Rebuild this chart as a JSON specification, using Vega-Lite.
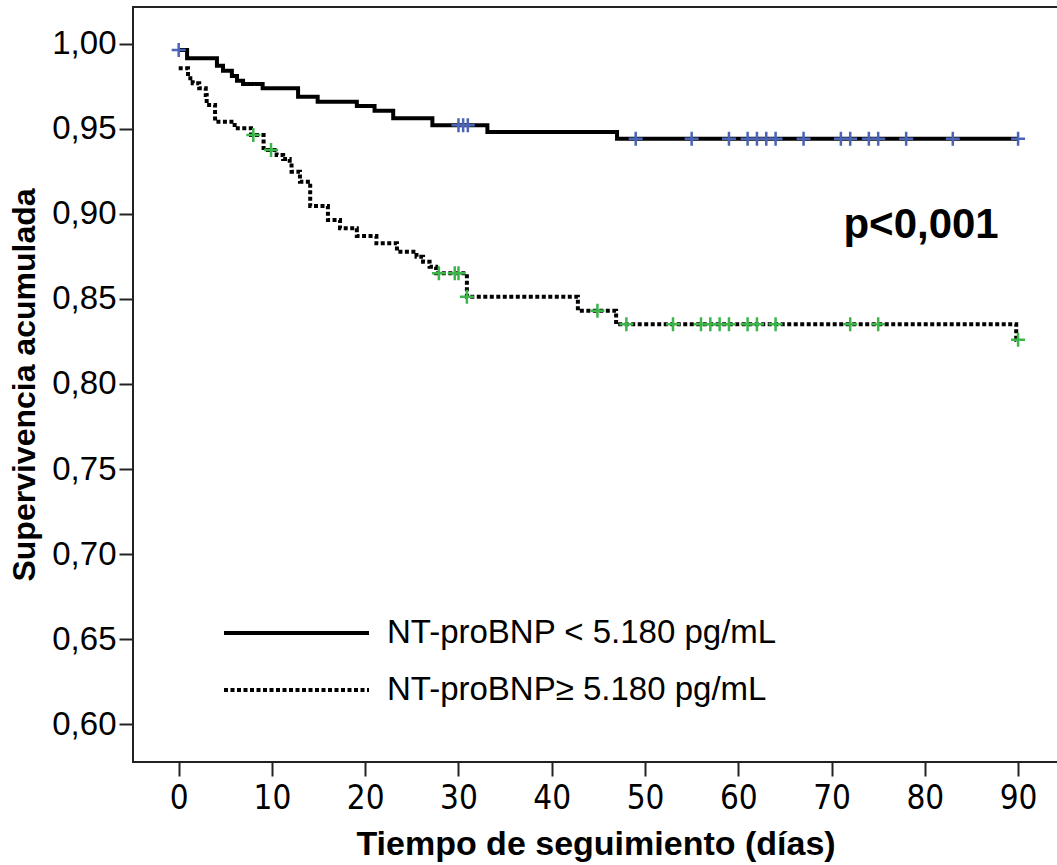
{
  "$schema": "https://vega.github.io/schema/vega-lite/v6.json",
  "width": 925,
  "height": 755,
  "autosize": {"type": "none"},
  "padding": {"left": 133, "top": 7, "right": 0, "bottom": 103},
  "background": "white",
  "config": {"view": {"stroke": "#222", "strokeWidth": 2}, "font": "Liberation Sans"},
  "datasets": {
    "curvas": [
      {"grupo": "NT-proBNP < 5.180 pg/mL", "t": 0, "s": 0.9962},
      {"grupo": "NT-proBNP < 5.180 pg/mL", "t": 0.9, "s": 0.9913},
      {"grupo": "NT-proBNP < 5.180 pg/mL", "t": 4.1, "s": 0.987},
      {"grupo": "NT-proBNP < 5.180 pg/mL", "t": 4.75, "s": 0.984},
      {"grupo": "NT-proBNP < 5.180 pg/mL", "t": 5.7, "s": 0.9809},
      {"grupo": "NT-proBNP < 5.180 pg/mL", "t": 6.25, "s": 0.9781},
      {"grupo": "NT-proBNP < 5.180 pg/mL", "t": 6.9, "s": 0.9762},
      {"grupo": "NT-proBNP < 5.180 pg/mL", "t": 9.0, "s": 0.9737},
      {"grupo": "NT-proBNP < 5.180 pg/mL", "t": 12.8, "s": 0.9687},
      {"grupo": "NT-proBNP < 5.180 pg/mL", "t": 14.9, "s": 0.9658},
      {"grupo": "NT-proBNP < 5.180 pg/mL", "t": 19.1, "s": 0.9633},
      {"grupo": "NT-proBNP < 5.180 pg/mL", "t": 21.0, "s": 0.9605},
      {"grupo": "NT-proBNP < 5.180 pg/mL", "t": 23.0, "s": 0.9561},
      {"grupo": "NT-proBNP < 5.180 pg/mL", "t": 27.2, "s": 0.952},
      {"grupo": "NT-proBNP < 5.180 pg/mL", "t": 33.1, "s": 0.948},
      {"grupo": "NT-proBNP < 5.180 pg/mL", "t": 47.0, "s": 0.944},
      {"grupo": "NT-proBNP < 5.180 pg/mL", "t": 90, "s": 0.944},
      {"grupo": "NT-proBNP≥ 5.180 pg/mL", "t": 0, "s": 0.9854},
      {"grupo": "NT-proBNP≥ 5.180 pg/mL", "t": 1.0, "s": 0.9796},
      {"grupo": "NT-proBNP≥ 5.180 pg/mL", "t": 1.5, "s": 0.9766},
      {"grupo": "NT-proBNP≥ 5.180 pg/mL", "t": 2.2, "s": 0.9737},
      {"grupo": "NT-proBNP≥ 5.180 pg/mL", "t": 2.9, "s": 0.9697},
      {"grupo": "NT-proBNP≥ 5.180 pg/mL", "t": 3.0, "s": 0.9639},
      {"grupo": "NT-proBNP≥ 5.180 pg/mL", "t": 3.9, "s": 0.9541},
      {"grupo": "NT-proBNP≥ 5.180 pg/mL", "t": 6.0, "s": 0.9502},
      {"grupo": "NT-proBNP≥ 5.180 pg/mL", "t": 7.75, "s": 0.9462},
      {"grupo": "NT-proBNP≥ 5.180 pg/mL", "t": 9.1, "s": 0.9374},
      {"grupo": "NT-proBNP≥ 5.180 pg/mL", "t": 10.5, "s": 0.9345},
      {"grupo": "NT-proBNP≥ 5.180 pg/mL", "t": 11.2, "s": 0.9321},
      {"grupo": "NT-proBNP≥ 5.180 pg/mL", "t": 11.9, "s": 0.9296},
      {"grupo": "NT-proBNP≥ 5.180 pg/mL", "t": 12.1, "s": 0.9247},
      {"grupo": "NT-proBNP≥ 5.180 pg/mL", "t": 13.0, "s": 0.9188},
      {"grupo": "NT-proBNP≥ 5.180 pg/mL", "t": 14.1, "s": 0.9045},
      {"grupo": "NT-proBNP≥ 5.180 pg/mL", "t": 16.0, "s": 0.8963},
      {"grupo": "NT-proBNP≥ 5.180 pg/mL", "t": 17.3, "s": 0.8914},
      {"grupo": "NT-proBNP≥ 5.180 pg/mL", "t": 19.1, "s": 0.8869},
      {"grupo": "NT-proBNP≥ 5.180 pg/mL", "t": 21.2, "s": 0.8826},
      {"grupo": "NT-proBNP≥ 5.180 pg/mL", "t": 23.4, "s": 0.8777},
      {"grupo": "NT-proBNP≥ 5.180 pg/mL", "t": 25.5, "s": 0.8747},
      {"grupo": "NT-proBNP≥ 5.180 pg/mL", "t": 26.2, "s": 0.8718},
      {"grupo": "NT-proBNP≥ 5.180 pg/mL", "t": 26.9, "s": 0.8689},
      {"grupo": "NT-proBNP≥ 5.180 pg/mL", "t": 27.6, "s": 0.865},
      {"grupo": "NT-proBNP≥ 5.180 pg/mL", "t": 30.9, "s": 0.8512},
      {"grupo": "NT-proBNP≥ 5.180 pg/mL", "t": 42.8, "s": 0.843},
      {"grupo": "NT-proBNP≥ 5.180 pg/mL", "t": 46.9, "s": 0.835},
      {"grupo": "NT-proBNP≥ 5.180 pg/mL", "t": 89.8, "s": 0.826},
      {"grupo": "NT-proBNP≥ 5.180 pg/mL", "t": 90, "s": 0.826}
    ],
    "censura": [
      {"grupo": "NT-proBNP < 5.180 pg/mL", "t": 0, "s": 0.9962},
      {"grupo": "NT-proBNP < 5.180 pg/mL", "t": 30, "s": 0.952},
      {"grupo": "NT-proBNP < 5.180 pg/mL", "t": 30.5, "s": 0.952},
      {"grupo": "NT-proBNP < 5.180 pg/mL", "t": 31, "s": 0.952},
      {"grupo": "NT-proBNP < 5.180 pg/mL", "t": 49, "s": 0.944},
      {"grupo": "NT-proBNP < 5.180 pg/mL", "t": 55, "s": 0.944},
      {"grupo": "NT-proBNP < 5.180 pg/mL", "t": 59, "s": 0.944},
      {"grupo": "NT-proBNP < 5.180 pg/mL", "t": 61, "s": 0.944},
      {"grupo": "NT-proBNP < 5.180 pg/mL", "t": 62, "s": 0.944},
      {"grupo": "NT-proBNP < 5.180 pg/mL", "t": 63, "s": 0.944},
      {"grupo": "NT-proBNP < 5.180 pg/mL", "t": 64, "s": 0.944},
      {"grupo": "NT-proBNP < 5.180 pg/mL", "t": 67, "s": 0.944},
      {"grupo": "NT-proBNP < 5.180 pg/mL", "t": 71, "s": 0.944},
      {"grupo": "NT-proBNP < 5.180 pg/mL", "t": 72, "s": 0.944},
      {"grupo": "NT-proBNP < 5.180 pg/mL", "t": 74, "s": 0.944},
      {"grupo": "NT-proBNP < 5.180 pg/mL", "t": 75, "s": 0.944},
      {"grupo": "NT-proBNP < 5.180 pg/mL", "t": 78, "s": 0.944},
      {"grupo": "NT-proBNP < 5.180 pg/mL", "t": 83, "s": 0.944},
      {"grupo": "NT-proBNP < 5.180 pg/mL", "t": 90, "s": 0.944},
      {"grupo": "NT-proBNP≥ 5.180 pg/mL", "t": 8.0, "s": 0.9462},
      {"grupo": "NT-proBNP≥ 5.180 pg/mL", "t": 9.9, "s": 0.9374},
      {"grupo": "NT-proBNP≥ 5.180 pg/mL", "t": 27.9, "s": 0.865},
      {"grupo": "NT-proBNP≥ 5.180 pg/mL", "t": 29.6, "s": 0.865},
      {"grupo": "NT-proBNP≥ 5.180 pg/mL", "t": 30.0, "s": 0.865},
      {"grupo": "NT-proBNP≥ 5.180 pg/mL", "t": 30.9, "s": 0.8512},
      {"grupo": "NT-proBNP≥ 5.180 pg/mL", "t": 44.9, "s": 0.843},
      {"grupo": "NT-proBNP≥ 5.180 pg/mL", "t": 48, "s": 0.835},
      {"grupo": "NT-proBNP≥ 5.180 pg/mL", "t": 53, "s": 0.835},
      {"grupo": "NT-proBNP≥ 5.180 pg/mL", "t": 56, "s": 0.835},
      {"grupo": "NT-proBNP≥ 5.180 pg/mL", "t": 57, "s": 0.835},
      {"grupo": "NT-proBNP≥ 5.180 pg/mL", "t": 58, "s": 0.835},
      {"grupo": "NT-proBNP≥ 5.180 pg/mL", "t": 59, "s": 0.835},
      {"grupo": "NT-proBNP≥ 5.180 pg/mL", "t": 61, "s": 0.835},
      {"grupo": "NT-proBNP≥ 5.180 pg/mL", "t": 62, "s": 0.835},
      {"grupo": "NT-proBNP≥ 5.180 pg/mL", "t": 64, "s": 0.835},
      {"grupo": "NT-proBNP≥ 5.180 pg/mL", "t": 72, "s": 0.835},
      {"grupo": "NT-proBNP≥ 5.180 pg/mL", "t": 75, "s": 0.835},
      {"grupo": "NT-proBNP≥ 5.180 pg/mL", "t": 90, "s": 0.826}
    ]
  },
  "layer": [
    {
      "data": {"name": "curvas"},
      "mark": {"type": "line", "interpolate": "step-after", "color": "black", "strokeWidth": 4, "strokeCap": "butt"},
      "encoding": {
        "x": {
          "field": "t", "type": "quantitative",
          "scale": {"domain": [-4.9, 94.28], "nice": false, "zero": false},
          "axis": {
            "values": [0, 10, 20, 30, 40, 50, 60, 70, 80, 90],
            "title": "Tiempo de seguimiento (días)",
            "grid": false, "domain": false,
            "labelFont": "DejaVu Sans Condensed",
            "labelFontSize": 33, "labelColor": "black", "labelPadding": 6, "labelFlush": false,
            "tickSize": 14, "tickWidth": 2, "tickColor": "#222",
            "titleFont": "Liberation Sans",
            "titleFontWeight": "bold", "titleFontSize": 34, "titleColor": "black", "titlePadding": 12
          }
        },
        "y": {
          "field": "s", "type": "quantitative",
          "scale": {"domain": [0.57785, 1.02145], "nice": false, "zero": false},
          "axis": {
            "values": [0.6, 0.65, 0.7, 0.75, 0.8, 0.85, 0.9, 0.95, 1.0],
            "labelExpr": "replace(format(datum.value, '.2f'), '.', ',')",
            "title": "Supervivencia acumulada",
            "grid": false, "domain": false,
            "labelFont": "Liberation Sans", "labelFontSize": 33, "labelColor": "black", "labelPadding": 3,
            "tickSize": 14, "tickWidth": 2, "tickColor": "#222",
            "titleFont": "Liberation Sans", "titleFontWeight": "bold", "titleFontSize": 32,
            "titleColor": "black", "titlePadding": 10
          }
        },
        "strokeDash": {
          "field": "grupo", "type": "nominal",
          "scale": {"domain": ["NT-proBNP < 5.180 pg/mL", "NT-proBNP≥ 5.180 pg/mL"], "range": [[1, 0], [4, 2.5]]},
          "legend": {
            "title": null, "orient": "none", "legendX": 89, "legendY": 606,
            "padding": 0, "symbolType": "stroke", "symbolSize": 21025, "symbolStrokeWidth": 4,
            "symbolStrokeColor": "black", "clipHeight": 40, "rowPadding": 17,
            "labelFont": "Liberation Sans", "labelFontSize": 33, "labelColor": "black",
            "labelOffset": 16, "labelLimit": 700
          }
        }
      }
    },
    {
      "data": {"name": "censura"},
      "mark": {"type": "point", "shape": "M-1,0H1M0,-1V1", "filled": false, "strokeWidth": 2.5, "size": 196, "opacity": 1},
      "encoding": {
        "x": {"field": "t", "type": "quantitative"},
        "y": {"field": "s", "type": "quantitative"},
        "color": {
          "condition": {"test": "datum.grupo === 'NT-proBNP < 5.180 pg/mL'", "value": "#4a64b8"},
          "value": "#3cb54a"
        }
      }
    },
    {
      "data": {"values": [{}]},
      "mark": {"type": "text", "text": "p<0,001", "font": "Liberation Sans", "fontWeight": "bold", "fontSize": 42, "align": "center", "baseline": "alphabetic", "color": "black"},
      "encoding": {
        "x": {"datum": 79.6, "type": "quantitative"},
        "y": {"datum": 0.8857, "type": "quantitative"}
      }
    }
  ]
}
